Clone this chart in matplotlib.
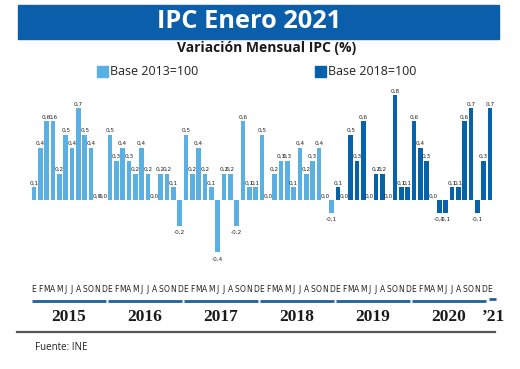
import matplotlib
matplotlib.use("Agg")
import matplotlib.pyplot as plt
from matplotlib.patches import Rectangle

# monthly CPI variation (%), INE
years = ['2015', '2016', '2017', '2018', '2019', '2020', '\u201921']
months = ['E', 'F', 'M', 'A', 'M', 'J', 'J', 'A', 'S', 'O', 'N', 'D']
base2013 = [0.1, 0.4, 0.6, 0.6, 0.2, 0.5, 0.4, 0.7, 0.5, 0.4, 0.0, 0.0,
            0.5, 0.3, 0.4, 0.3, 0.2, 0.4, 0.2, 0.0, 0.2, 0.2, 0.1, -0.2,
            0.5, 0.2, 0.4, 0.2, 0.1, -0.4, 0.2, 0.2, -0.2, 0.6, 0.1, 0.1,
            0.5, 0.0, 0.2, 0.3, 0.3, 0.1, 0.4, 0.2, 0.3, 0.4, 0.0, -0.1]
base2018 = [0.1, 0.0, 0.5, 0.3, 0.6, 0.0, 0.2, 0.2, 0.0, 0.8, 0.1, 0.1,
            0.6, 0.4, 0.3, 0.0, -0.1, -0.1, 0.1, 0.1, 0.6, 0.7, -0.1, 0.3,
            0.7]
legend_labels = ['Base 2013=100', 'Base 2018=100']

LIGHT = '#5AB0E2'
DARK = '#0762AC'
BANNER = '#0B5FAA'

W, H = 520, 369
X0, DX = 34, 6.333     # pixel of first bar, pixels per bar
Y0, DY = 200, 131      # pixel of zero line, pixels per unit


def px(p):
    return (p - X0) / DX


def py(p):
    return (Y0 - p) / DY


fig = plt.figure(figsize=(W / 100, H / 100), dpi=100)
ax = fig.add_axes([0, 0, 1, 1])
ax.set_xlim(px(0), px(W))
ax.set_ylim(py(H), py(0))
ax.axis('off')

values = base2013 + base2018
colors = [LIGHT] * len(base2013) + [DARK] * len(base2018)
xs = list(range(len(values)))
ax.bar(xs, values, width=0.72, color=colors)

for x, v in zip(xs, values):
    lab = f"{v:.1f}".replace('.', ',')
    if v < 0:
        ax.text(x, v - 0.03, lab, ha='center', va='top', fontsize=4.6,
                family='DejaVu Sans', fontstretch='condensed', color='#222222')
    else:
        ax.text(x, v + 0.012, lab, ha='center', va='bottom', fontsize=4.6,
                family='DejaVu Sans', fontstretch='condensed', color='#222222')

# month letters, year underlines and labels
for i, y in enumerate(years):
    start = i * 12
    n = min(12, len(values) - start)
    for j in range(n):
        ax.text(start + j, py(290), months[j], ha='center', va='center',
                fontsize=6, family='DejaVu Sans', fontstretch='condensed',
                color='#222222')
    if n == 12:
        ax.plot([start - 0.3, start + 11.4], [py(300.5), py(300.5)],
                color='#1D62A0', lw=2, solid_capstyle='butt')
        ax.text(start + 5.5, py(317), y, ha='center', va='center',
                fontsize=12.5, family='Liberation Serif', weight='bold',
                color='#1a1a1a')
    else:
        ax.plot([start - 0.1, start + 0.9], [py(299), py(299)],
                color='#1D62A0', lw=2, solid_capstyle='butt')
        ax.text(start + 0.6, py(317), y, ha='center', va='center',
                fontsize=12.5, family='Liberation Serif', weight='bold',
                color='#1a1a1a')

ax.plot([px(17), px(495)], [py(332), py(332)], color='#555555', lw=1.6)
ax.text(px(35), py(347), 'Fuente: INE', ha='left', va='center',
        fontsize=7, family='Open Sans', color='#222222')

# banner and headings
fig.patches.append(Rectangle((18 / W, 1 - 39 / H), 481 / W, 34 / H,
                             transform=fig.transFigure, color=BANNER))
fig.text(249 / W, 1 - 21 / H, 'IPC Enero 2021', ha='center', va='center',
         fontsize=18.3, family='Open Sans', weight='bold', color='white')
fig.text(267 / W, 1 - 48 / H, 'Variación Mensual IPC (%)', ha='center',
         va='center', fontsize=10, family='Open Sans', weight='bold',
         color='#1a1a1a')

# legend
for (sx, col, lab) in [(97, LIGHT, legend_labels[0]), (315, DARK, legend_labels[1])]:
    fig.patches.append(Rectangle((sx / W, 1 - 77 / H), 11 / W, 11 / H,
                                 transform=fig.transFigure, color=col))
    fig.text((sx + 13) / W, 1 - 71.5 / H, lab, ha='left', va='center',
             fontsize=9, family='Open Sans', color='#222222')

fig.savefig('out.png', dpi=100)
